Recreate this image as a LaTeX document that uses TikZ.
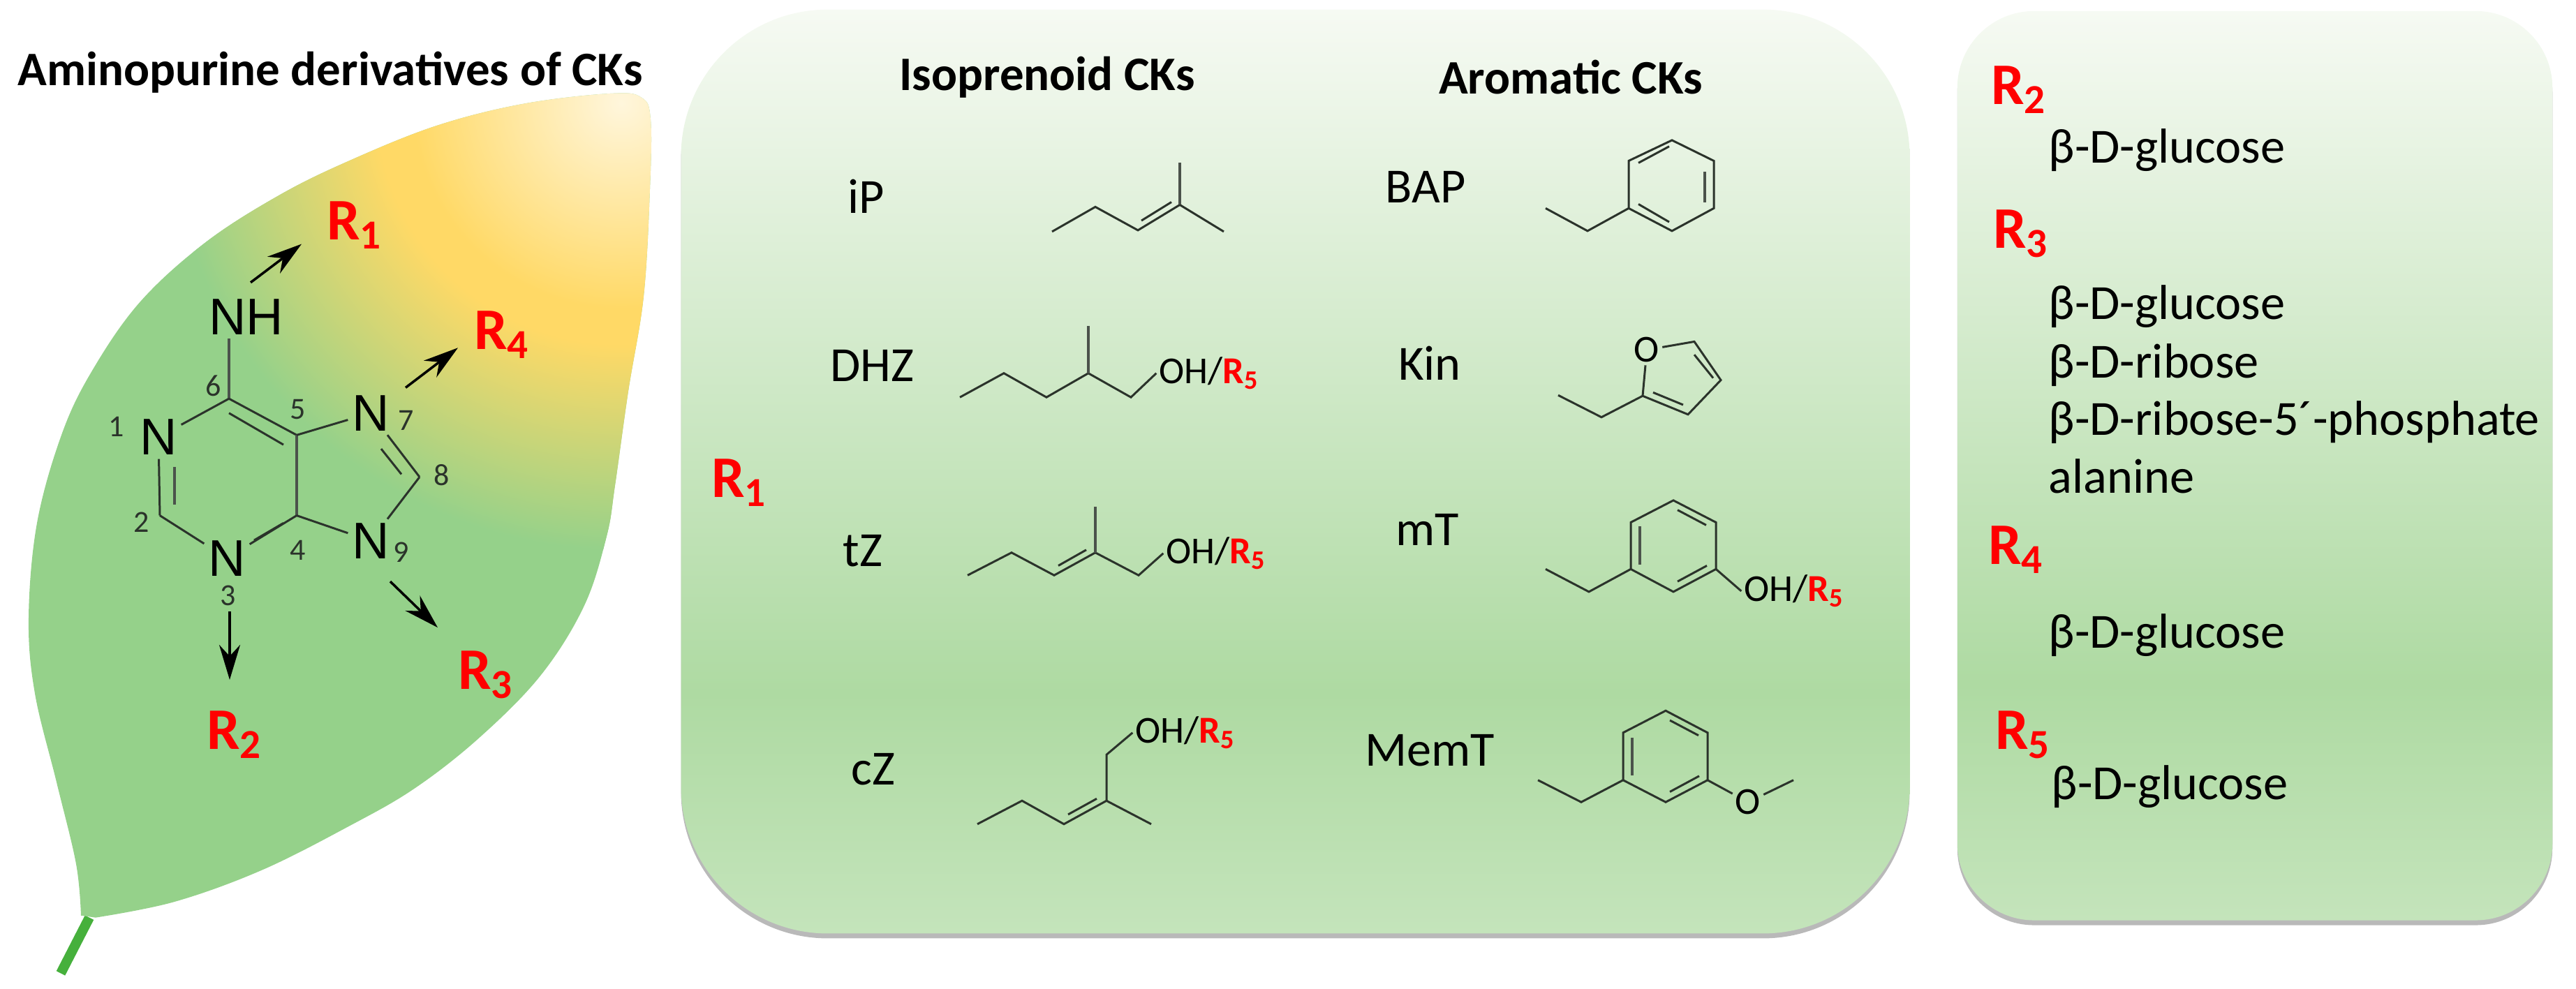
\documentclass[tikz,border=0pt]{standalone}
\usepackage{fontspec}
\setmainfont{Carlito}
\newfontfamily\chemfont{Liberation Sans}
\usetikzlibrary{arrows.meta,shadows}

\definecolor{leafgreen}{HTML}{95D18A}
\definecolor{leafyellow}{HTML}{FFD966}
\definecolor{leafpale}{HTML}{FFF6DC}
\definecolor{stemgreen}{HTML}{46B03C}
\definecolor{paneltop}{HTML}{F6FAF3}
\definecolor{panelmid}{HTML}{AEDAA2}
\definecolor{panelend}{HTML}{C4E4BB}
\definecolor{bondgrey}{HTML}{2B332B}

\pgfdeclareradialshading{leafglow}{\pgfpointorigin}{color(0bp)=(leafpale); color(11.5bp)=(leafyellow); color(13.5bp)=(leafyellow); color(25bp)=(leafgreen); color(50bp)=(leafgreen)}
\pgfdeclareverticalshading{panelglow}{100bp}{color(0bp)=(panelend); color(25bp)=(panelend); color(38bp)=(panelmid); color(75bp)=(paneltop); color(100bp)=(paneltop)}

\tikzset{
        panel/.style={rectangle, shading=panelglow, drop shadow={shadow xshift=0cm, shadow yshift=-0.07cm, opacity=0.55}},
        bond/.style={draw=bondgrey, line width=0.85pt},
        heavybond/.style={draw=bondgrey!85, line width=1.3pt},
        push/.style={black, line width=1pt, -{Stealth[length=0.5cm,width=0.3cm]}},
        atom/.style={inner sep=1.5pt, font=\chemfont\fontsize{21}{24}\selectfont},
        atomno/.style={inner sep=0pt, font=\fontsize{12.5}{14}\selectfont, bondgrey},
        rgroup/.style={inner sep=0pt, red, font=\bfseries\fontsize{24}{28}\selectfont},
        head/.style={inner sep=0pt, font=\bfseries\fontsize{19.6}{23}\selectfont},
        cklabel/.style={inner sep=0pt, font=\fontsize{20}{24}\selectfont},
        sugar/.style={inner sep=0pt, anchor=base west, font=\fontsize{20}{24}\selectfont},
        endgroup/.style={inner sep=1pt, font=\fontsize{15.5}{18}\selectfont}
}
\newcommand{\Rgrp}[1]{R\textsubscript{#1}}
\newcommand{\OHR}{OH/{\color{red}\bfseries\Rgrp{5}}}

\begin{document}
\begin{tikzpicture}[x=0.01cm, y=-0.00984cm]
        \useasboundingbox (0,0) rectangle (3690,1438);

        %leaf
        \draw[stemgreen, line width=4pt] (128,1335) -- (87,1416);
        \begin{scope}
        \path[fill=leafgreen, save path=\leafpath] plot[smooth, tension=0.6] coordinates {(116,1332) (109,1257) (81,1138) (50,1009) (41,899) (53,761) (88,633) (131,541) (200,440) (294,353) (400,284) (500,234) (625,183) (750,151) (875,136) (919,142) (932,174) (931,275) (922,431) (900,569) (881,706) (869,780) (837,881) (775,982) (687,1073) (594,1147) (500,1202) (375,1266) (250,1312) (137,1335)} -- cycle;
        \clip[use path=\leafpath];
        \shade[shading=leafglow] (890,150) circle[radius=650];
        \end{scope}
        \node[head] (leaftitle) at (473,105) {Aminopurine derivatives of CKs};

        %purine atoms
        \node[atom] (NH) at (353,461) {NH};
        \node[atom] (N1) at (227,636) {N};
        \node[atom] (N3) at (325,812) {N};
        \node[atom] (N7) at (531,601) {N};
        \node[atom] (N9) at (531,787) {N};
        \coordinate (C2) at (229,750);
        \coordinate (C4) at (425,750);
        \coordinate (C5) at (425,633);
        \coordinate (C6) at (328,580);
        \coordinate (C8) at (601,694);

        %purine bonds
        \draw[heavybond] (C6) -- (C6 |- NH.south);
        \draw[bond] (C6) -- (N1);
        \draw[bond] (C6) -- (C5);
        \draw[heavybond] (C5) -- (C4);
        \draw[bond] (C5) -- (N7);
        \draw[bond] (C4) -- (N9);
        \draw[bond] (C4) -- (N3);
        \draw[bond] (N3) -- (C2);
        \draw[bond] (C2) -- (N1);
        \draw[bond] (N7) -- (C8);
        \draw[bond] (C8) -- (N9);

        %second lines of the double bonds
        \coordinate (d1a) at (328,601);
        \coordinate (d1b) at (406,647);
        \coordinate (d2a) at (406,761);
        \coordinate (d2b) at (364,786);
        \coordinate (d3a) at (250,734);
        \coordinate (d3b) at (250,679);
        \coordinate (d4a) at (546,653);
        \coordinate (d4b) at (575,690);
        \draw[bond] (d1a) -- (d1b);
        \draw[bond] (d2a) -- (d2b);
        \draw[heavybond] (d3a) -- (d3b);
        \draw[bond] (d4a) -- (d4b);

        %ring numbers
        \node[atomno] (no1) at (167,621) {1};
        \node[atomno] (no2) at (203,760) {2};
        \node[atomno] (no3) at (327,867) {3};
        \node[atomno] (no4) at (427,801) {4};
        \node[atomno] (no5) at (427,596) {5};
        \node[atomno] (no6) at (306,561) {6};
        \node[atomno] (no7) at (582,612) {7};
        \node[atomno] (no8) at (633,691) {8};
        \node[atomno] (no9) at (575,803) {9};

        %R groups and arrows
        \node[rgroup] (R1) at (508,328) {\Rgrp{1}};
        \node[rgroup] (R2) at (336,1069) {\Rgrp{2}};
        \node[rgroup] (R3) at (696,982) {\Rgrp{3}};
        \node[rgroup] (R4) at (719,487) {\Rgrp{4}};
        \coordinate (a1s) at (359,411);
        \coordinate (a1e) at (432,355);
        \coordinate (a2s) at (329,890);
        \coordinate (a2e) at (329,989);
        \coordinate (a3s) at (559,846);
        \coordinate (a3e) at (627,913);
        \coordinate (a4s) at (581,564);
        \coordinate (a4e) at (656,506);
        \draw[push] (a1s) -- (a1e);
        \draw[push] (a2s) -- (a2e);
        \draw[push] (a3s) -- (a3e);
        \draw[push] (a4s) -- (a4e);

        %middle panel
        \node[panel, minimum width=17.59cm, minimum height=13.23cm, rounded corners=2.1cm] (ckpanel) at (1855.5,686) {};
        \node[head] (isohead) at (1500,112) {Isoprenoid CKs};
        \node[head] (arohead) at (2250,112) {Aromatic CKs};
        \node[rgroup] (panelR1) at (1059,702) {\Rgrp{1}};
        \node[cklabel] (iP) at (1241,286) {iP};
        \node[cklabel] (DHZ) at (1249,532) {DHZ};
        \node[cklabel] (tZ) at (1236,801) {tZ};
        \node[cklabel] (cZ) at (1251,1119) {cZ};
        \node[cklabel] (BAP) at (2042,272) {BAP};
        \node[cklabel] (Kin) at (2048,528) {Kin};
        \node[cklabel] (mT) at (2045,771) {mT};
        \node[cklabel] (MemT) at (2048,1092) {MemT};

        %isoprenoid chains
        \draw[bond] (1507,337) -- (1569,301) -- (1630,335) -- (1690,298) -- (1753,337);
        \draw[heavybond] (1690,237) -- (1690,298);
        \draw[bond] (1635,321) -- (1678,294);

        \node[endgroup] (dhzoh) at (1732,543) {\OHR};
        \draw[bond] (1375,578) -- (1438,543) -- (1499,578) -- (1559,543) -- (1620,578) -- (dhzoh.west);
        \draw[heavybond] (1559,474) -- (1559,543);

        \node[endgroup] (tzoh) at (1742,805) {\OHR};
        \draw[bond] (1386,837) -- (1449,804) -- (1510,837) -- (1569,804) -- (1631,837) -- (tzoh.west);
        \draw[heavybond] (1569,737) -- (1569,804);
        \draw[bond] (1516,823) -- (1556,800);

        \node[endgroup] (czoh) at (1698,1066) {\OHR};
        \draw[bond] (1400,1199) -- (1464,1165) -- (1524,1199) -- (1585,1165) -- (1649,1199);
        \draw[bond] (1585,1165) -- (1585,1098) -- (czoh.west);
        \draw[bond] (1530,1185) -- (1571,1162);

        %aromatic rings
        \draw[bond] (2214,303) -- (2274,336) -- (2333,303);
        \draw[bond] (2333,303) -- (2333,234) -- (2395,204) -- (2455,234) -- (2455,303) -- (2395,336) -- cycle;
        \draw[bond] (2347,237) -- (2391,213);
        \draw[heavybond] (2442,250) -- (2442,294);
        \draw[bond] (2347,297) -- (2391,323);

        \node[endgroup] (kinO) at (2359,509) {O};
        \draw[bond] (2232,575) -- (2294,607) -- (2353,576) -- (kinO);
        \draw[bond] (kinO) -- (2427,497) -- (2465,553) -- (2418,603) -- (2353,576);
        \draw[bond] (2427,516) -- (2454,550);
        \draw[bond] (2368,571) -- (2411,589);

        \node[endgroup] (mtoh) at (2570,860) {\OHR};
        \draw[bond] (2214,828) -- (2276,861) -- (2336,828);
        \draw[bond] (2336,828) -- (2336,760) -- (2397,728) -- (2458,760) -- (2458,828) -- (2397,861) -- cycle;
        \draw[heavybond] (2349,766) -- (2349,821);
        \draw[bond] (2403,742) -- (2444,764);
        \draw[bond] (2403,846) -- (2445,823);
        \draw[bond] (2458,828) -- (mtoh.west);

        \node[endgroup] (memO) at (2504,1167) {O};
        \draw[bond] (2203,1135) -- (2265,1167) -- (2325,1135);
        \draw[bond] (2325,1135) -- (2325,1066) -- (2386,1034) -- (2446,1066) -- (2446,1135) -- (2386,1167) -- cycle;
        \draw[heavybond] (2338,1073) -- (2338,1128);
        \draw[bond] (2392,1048) -- (2433,1070);
        \draw[bond] (2392,1152) -- (2434,1129);
        \draw[bond] (2446,1135) -- (memO) -- (2569,1135);

        %right panel
        \node[panel, minimum width=8.52cm, minimum height=13.02cm, rounded corners=1.1cm] (sugarpanel) at (3230,677.5) {};
        \node[rgroup] (listR2) at (2892,131) {\Rgrp{2}};
        \node[rgroup] (listR3) at (2895,340) {\Rgrp{3}};
        \node[rgroup] (listR4) at (2888,800) {\Rgrp{4}};
        \node[rgroup] (listR5) at (2898,1069) {\Rgrp{5}};
        \node[sugar] (glcA) at (2934,237) {β-D-glucose};
        \node[sugar] (glcB) at (2934,465) {β-D-glucose};
        \node[sugar] (rib) at (2934,550) {β-D-ribose};
        \node[sugar] (ribp) at (2934,633) {β-D-ribose-5´-phosphate};
        \node[sugar] (ala) at (2934,717) {alanine};
        \node[sugar] (glcC) at (2934,943) {β-D-glucose};
        \node[sugar] (glcD) at (2938,1163) {β-D-glucose};
\end{tikzpicture}
\end{document}
